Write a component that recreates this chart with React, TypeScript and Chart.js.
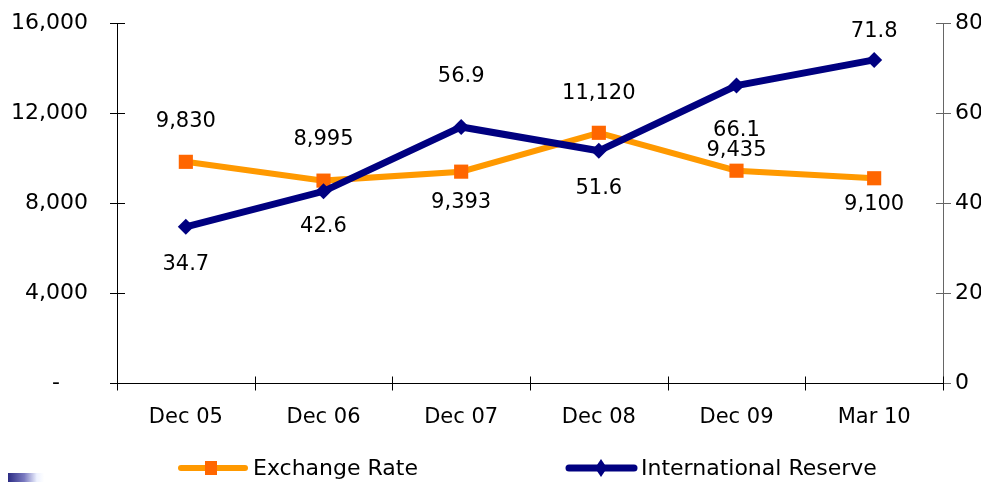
import React, { useEffect, useRef } from "react";
import { Chart, registerables } from "chart.js";

Chart.register(...registerables);

const categories = ["Dec 05", "Dec 06", "Dec 07", "Dec 08", "Dec 09", "Mar 10"];
const exchangeRate = [9830, 8995, 9393, 11120, 9435, 9100];
const intlReserve = [34.7, 42.6, 56.9, 51.6, 66.1, 71.8];
const leftTicks = [0, 4000, 8000, 12000, 16000];
const rightTicks = [0, 20, 40, 60, 80];

// label vertical offsets (px) relative to each point
const exchangeLabelDy = [-40, -41, 31, -39, -20, 26];
const reserveLabelDy = [38, 35, -50, 38, 45, -28];

const FONT = "'DejaVu Sans', 'Liberation Sans', sans-serif";

const labelsPlugin = {
  id: "pointLabels",
  afterDatasetsDraw(chart: any) {
    const ctx = chart.ctx;
    ctx.save();
    ctx.font = `21px ${FONT}`;
    ctx.fillStyle = "#000";
    ctx.textAlign = "center";
    ctx.textBaseline = "middle";
    chart.data.datasets.forEach((ds: any, di: number) => {
      const meta = chart.getDatasetMeta(di);
      meta.data.forEach((pt: any, i: number) => {
        const v = ds.data[i];
        const txt = ds.yAxisID === "y" ? v.toLocaleString("en-US") : v.toFixed(1);
        const dy = ds.yAxisID === "y" ? exchangeLabelDy[i] : reserveLabelDy[i];
        ctx.fillText(txt, pt.x, pt.y + dy);
      });
    });
    ctx.restore();
  },
};

const axesPlugin = {
  id: "axesLines",
  beforeDatasetsDraw(chart: any) {
    const ctx = chart.ctx;
    const { left, right, top, bottom } = chart.chartArea;
    const y = chart.scales.y;
    const y1 = chart.scales.y1;
    const x = chart.scales.x;
    ctx.save();
    ctx.lineWidth = 1;
    // left axis
    ctx.strokeStyle = "#000";
    ctx.beginPath();
    ctx.moveTo(left + 0.5, top);
    ctx.lineTo(left + 0.5, bottom + 7);
    leftTicks.forEach((t) => {
      const py = Math.round(y.getPixelForValue(t)) + 0.5;
      ctx.moveTo(left - 7, py);
      ctx.lineTo(left + 8, py);
    });
    ctx.stroke();
    // right axis
    ctx.strokeStyle = "#666";
    ctx.beginPath();
    ctx.moveTo(right + 0.5, top);
    ctx.lineTo(right + 0.5, bottom + 7);
    rightTicks.forEach((t) => {
      const py = Math.round(y1.getPixelForValue(t)) + 0.5;
      ctx.moveTo(right - 7, py);
      ctx.lineTo(right + 8, py);
    });
    ctx.stroke();
    // bottom axis
    ctx.strokeStyle = "#000";
    ctx.beginPath();
    const by = Math.round(bottom) + 0.5;
    ctx.moveTo(left, by);
    ctx.lineTo(right, by);
    const half = (x.getPixelForValue(1) - x.getPixelForValue(0)) / 2;
    for (let i = 0; i <= categories.length; i++) {
      const px = Math.round(x.getPixelForValue(i) - half) + 0.5;
      ctx.moveTo(px, by - 7);
      ctx.lineTo(px, by + 7);
    }
    ctx.stroke();
    ctx.restore();
  },
};

const legendPlugin = {
  id: "customLegend",
  afterDraw(chart: any) {
    const ctx = chart.ctx;
    const ly = 468;
    ctx.save();
    // Exchange Rate
    ctx.strokeStyle = "#FF9900";
    ctx.lineWidth = 6;
    ctx.lineCap = "round";
    ctx.beginPath();
    ctx.moveTo(181, ly);
    ctx.lineTo(245, ly);
    ctx.stroke();
    ctx.fillStyle = "#FF6600";
    ctx.fillRect(205, ly - 7, 12, 14);
    // International Reserve
    ctx.strokeStyle = "#000080";
    ctx.lineWidth = 7;
    ctx.beginPath();
    ctx.moveTo(569, ly);
    ctx.lineTo(634, ly);
    ctx.stroke();
    ctx.fillStyle = "#000080";
    ctx.beginPath();
    ctx.moveTo(601, ly - 9);
    ctx.lineTo(607, ly);
    ctx.lineTo(601, ly + 9);
    ctx.lineTo(595, ly);
    ctx.closePath();
    ctx.fill();
    ctx.font = `22px ${FONT}`;
    ctx.fillStyle = "#000";
    ctx.textAlign = "left";
    ctx.textBaseline = "middle";
    ctx.fillText("Exchange Rate", 253, ly + 1);
    ctx.fillText("International Reserve", 641, ly + 1);
    ctx.restore();
  },
};

export default function App() {
  const ref = useRef<HTMLCanvasElement | null>(null);

  useEffect(() => {
    document.body.style.margin = "0";
    if (!ref.current) return;
    const chart = new Chart(ref.current, {
      type: "line",
      data: {
        labels: categories,
        datasets: [
          {
            label: "International Reserve",
            data: intlReserve,
            yAxisID: "y1",
            borderColor: "#000080",
            backgroundColor: "#000080",
            borderWidth: 7,
            pointStyle: "rectRot",
            pointRadius: 8,
            pointBorderWidth: 0,
            pointBackgroundColor: "#000080",
            tension: 0,
            order: 0,
          },
          {
            label: "Exchange Rate",
            data: exchangeRate,
            yAxisID: "y",
            borderColor: "#FF9900",
            backgroundColor: "#FF6600",
            borderWidth: 6,
            pointStyle: "rect",
            pointRadius: 10,
            pointBorderWidth: 0,
            pointBackgroundColor: "#FF6600",
            tension: 0,
            order: 1,
          },
        ],
      },
      options: {
        animation: false,
        responsive: true,
        maintainAspectRatio: false,
        layout: { padding: { top: 23, left: 0, right: 0, bottom: 0 } },
        plugins: {
          legend: { display: false },
          tooltip: { enabled: false },
        },
        scales: {
          x: {
            offset: true,
            grid: { display: false },
            border: { display: false },
            ticks: {
              color: "#000",
              font: { family: FONT, size: 21 },
              padding: 14,
              maxRotation: 0,
            },
            afterFit: (s: any) => {
              s.height = 99;
              s.paddingLeft = 0;
              s.paddingRight = 0;
            },
          },
          y: {
            position: "left",
            min: 0,
            max: 16000,
            grid: { display: false },
            border: { display: false },
            afterBuildTicks: (s: any) => {
              s.ticks = leftTicks.map((v) => ({ value: v }));
            },
            ticks: {
              color: "#000",
              font: { family: FONT, size: 22 },
              padding: 21,
              callback: (v: any) => (Number(v) === 0 ? "-    " : Number(v).toLocaleString("en-US")),
            },
            afterFit: (s: any) => {
              s.width = 117;
              s.paddingTop = 0;
              s.paddingBottom = 0;
            },
          },
          y1: {
            position: "right",
            min: 0,
            max: 80,
            grid: { display: false },
            border: { display: false },
            afterBuildTicks: (s: any) => {
              s.ticks = rightTicks.map((v) => ({ value: v }));
            },
            ticks: {
              color: "#000",
              font: { family: FONT, size: 22 },
              padding: 4,
            },
            afterFit: (s: any) => {
              s.width = 38;
              s.paddingTop = 0;
              s.paddingBottom = 0;
            },
          },
        },
      },
      plugins: [axesPlugin, labelsPlugin, legendPlugin],
    });
    return () => chart.destroy();
  }, []);

  return (
    <div style={{ position: "relative", width: 981, height: 482, background: "#fff", overflow: "hidden" }}>
      <canvas ref={ref} />
      <div
        style={{
          position: "absolute",
          left: 8,
          top: 473,
          width: 36,
          height: 9,
          background: "linear-gradient(to right, #2c2c84, #7a7ac0 45%, rgba(225,232,255,0.6) 80%, rgba(255,255,255,0))",
        }}
      />
    </div>
  );
}
